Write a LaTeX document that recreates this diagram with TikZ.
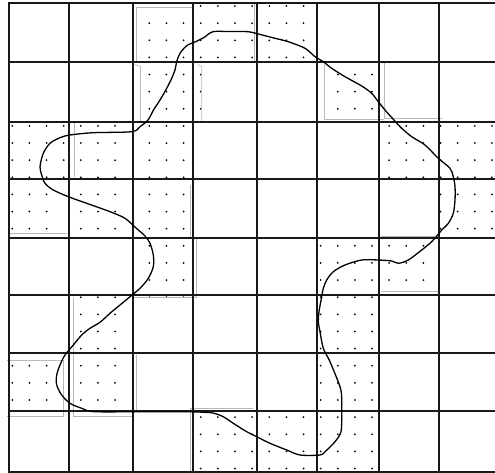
\documentclass[tikz,border=0pt]{standalone}
\begin{document}
\begin{tikzpicture}[x=1pt,y=-1pt,
  gridline/.style={line width=1.8pt,black!90,line cap=rect},
  curveline/.style={line width=1.3pt,black,line join=round},
  regionedge/.style={line width=0.7pt,black!28},
  dotmark/.style={fill=black}]
\useasboundingbox (0,0) rectangle (495,473);
\fill[white] (0,0) rectangle (495,473);
% dotted regions
\foreach \a/\b/\c/\d in {136/7.3/193/61.7, 193/2.7/317/61.7,
  140.5/64.5/202/121.7, 324.3/63/384.3/119,
  8.7/121.7/131/179.3, 136/121.7/192.7/179.3, 379/121.7/500/179.3,
  8.7/179.3/62/233, 69/179.3/131/237.7, 136/179.3/190/237.7, 439/179.3/500/237.7,
  136/237.7/196/297.7, 317/237.7/438.5/291.7,
  72.7/295/131/352.7, 317/295/379/352.7,
  7/360/63.3/416, 73.5/352.7/131/416, 317/352.7/379/410.7,
  190/408.3/379/472}{
  \pgfmathtruncatemacro\ia{ceil((\a-12.3)/17.13)}
  \pgfmathtruncatemacro\ib{floor((\c-12.3)/17.13)}
  \pgfmathtruncatemacro\ja{ceil((\b-6)/17.13)}
  \pgfmathtruncatemacro\jb{floor((\d-6)/17.13)}
  \foreach \i in {\ia,...,\ib}{
    \foreach \j in {\ja,...,\jb}{
      \fill[dotmark] ({12.3+17.13*\i},{6+17.13*\j}) circle (1.0);
    }
  }
}
% faint outlines of the dotted regions
\draw[regionedge] (193,7.3) -- (136,7.3) -- (136,61.7);
\draw[regionedge] (254,3) -- (254,61.7);
\draw[regionedge] (135,64.5) -- (140.5,66.5) -- (140.5,121.7);
\draw[regionedge] (197.5,64.5) -- (201.8,66.5) -- (201.8,121.7);
\draw[regionedge] (324.3,63) -- (324.3,119) -- (384.3,119);
\draw[regionedge] (384.3,63) -- (384.3,118.3) -- (441.7,118.3);
\draw[regionedge] (74,123) -- (74,177);
\draw[regionedge] (10,233) -- (66.7,233);
\draw[regionedge] (190,185) -- (190,237.7);
\draw[regionedge] (381,236) -- (437,236);
\draw[regionedge] (196,237.7) -- (196,297.7) -- (133.3,297.7);
\draw[regionedge] (381,291.7) -- (438,291.7);
\draw[regionedge] (73.3,298) -- (73.3,416) -- (133.3,416);
\draw[regionedge] (7,360) -- (63.3,360) -- (63.3,416) -- (7,416);
\draw[regionedge] (136,355) -- (136,412);
\draw[regionedge] (253,408.3) -- (190,408.3) -- (190,472);
% grid
\foreach \x in {8.7,69,133.3,192.7,257,316.7,379,439}{
  \draw[gridline] (\x,2.7) -- (\x,471.7);
}
\foreach \y in {2.7,61.7,121.7,179.3,237.7,295,352.7,410.7,471.7}{
  \draw[gridline] (8.7,\y) -- (496,\y);
}
% closed curve
\draw[curveline] plot[smooth cycle,tension=0.5] coordinates {
(213,31.7) (230,31.6) (248.3,31.7) (258.3,34) (275,38.3) (288.3,41.7) (305,48.3)
(315,56.7) (323.3,61.7) (331.7,68.3) (345,76.7) (361.7,86) (371.7,93.3)
(378.3,101.7) (385,110) (393.3,119.3) (401.7,128.3) (411.7,136.7) (425,145)
(438.3,158.3) (450,168.3) (453.3,176.7) (455,186.7) (455,200) (453.3,213.3)
(448.3,223.3) (441.7,230) (437.7,235) (431.7,241.7) (421.7,250) (408.3,260)
(398.3,263.3) (391.7,261) (378.3,260) (361.7,260) (345,265) (333.3,271.7)
(326.7,280) (323.3,288.3) (321.7,296.7) (319,311.7) (318.3,321.7) (320,331.7)
(323.3,348.3) (330,361.7) (340,386.7) (341.7,398.3) (341.7,415) (341,431.7)
(335,441.7) (325,451.7) (320,455) (300,455) (286.7,450) (270,443.3)
(256.7,436.7) (246.7,431.7) (233.3,423.3) (223.3,416.7) (213,413) (204,412.3)
(191.7,411.8) (160,411.8) (128,411.8) (93,411.6) (81.7,408.3) (70,403.3)
(61.7,395) (56.7,385) (56.7,375) (60,365) (65,355) (73.3,345) (81.7,335)
(90,328.3) (100,322.3) (110,313.3) (120,305) (130,296.7) (140,288.3)
(148.3,278.3) (153.3,266.7) (153.3,255) (150,243.3) (145,236) (136,228)
(125,218.3) (110,211.7) (86.7,203.3) (68.3,196.7) (53.3,190) (45,183.3)
(41.7,175) (40,166.7) (43.3,153.3) (50,143.3) (60,137.7) (70,135)
(93.3,132.7) (131.7,131.7) (140,126.7) (148,120) (153.5,110) (160,100)
(166.7,88.3) (171.7,78.3) (175,70) (176.7,61.7) (180,53.3) (187,45.5)
(196,41.5) (204,37.5)};
\end{tikzpicture}
\end{document}
